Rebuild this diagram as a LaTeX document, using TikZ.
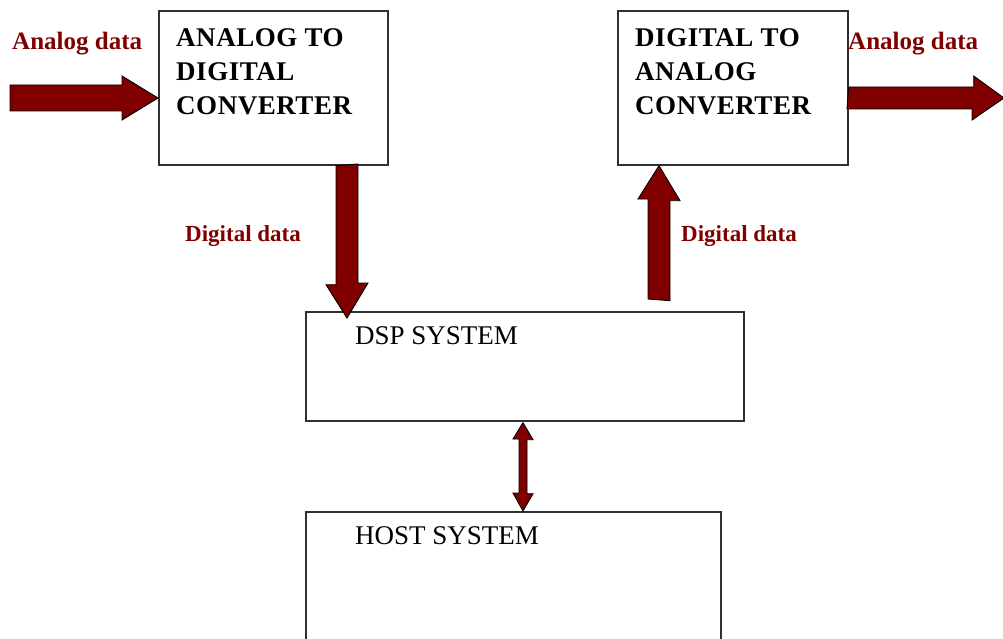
\documentclass[tikz,border=0pt]{standalone}
\usepackage{fontspec}
\setmainfont{Liberation Serif}
\definecolor{maroon}{HTML}{800000}
\definecolor{edge}{HTML}{303030}
\begin{document}
\begin{tikzpicture}[x=1pt,y=-1pt,
  block/.style={draw=edge,line width=1.7pt,fill=white,anchor=north west,inner sep=0pt},
  boxtext/.style={anchor=north west,inner sep=0pt,align=left,
    font=\fontsize{27}{34}\selectfont\bfseries\addfontfeatures{LetterSpace=2}},
  systext/.style={anchor=base west,inner sep=0pt,font=\fontsize{27}{34}\selectfont},
  flowlabel/.style={anchor=base west,inner sep=0pt,text=maroon},
  fat/.style={fill=maroon,draw=black,line width=0.9pt,line join=miter}]
\clip (0,0) rectangle (1003,639);
\fill[white] (0,0) rectangle (1003,639);

% blocks
\node[block,minimum width=229pt,minimum height=154pt] (adc) at (158,10) {};
\node[block,minimum width=230pt,minimum height=154pt] (dac) at (617,10) {};
\node[block,minimum width=438pt,minimum height=109pt] (dsp) at (305,311) {};
\node[block,minimum width=415pt,minimum height=150pt] (host) at (305,511) {};

% block titles
\node[boxtext] (adct) at (176,28) {ANALOG TO\\DIGITAL\\CONVERTER};
\node[boxtext] (dact) at (635,28) {DIGITAL TO\\ANALOG\\CONVERTER};
\node[systext] (dspt) at (355,344) {DSP SYSTEM};
\node[systext] (hostt) at (355,544) {HOST SYSTEM};

% flow labels
\node[flowlabel,font=\fontsize{25}{28}\selectfont\bfseries] (ain) at (12,50) {Analog data};
\node[flowlabel,font=\fontsize{25}{28}\selectfont\bfseries] (aout) at (848,50) {Analog data};
\node[flowlabel,font=\fontsize{23}{28}\selectfont\bfseries] (din) at (185,241) {Digital data};
\node[flowlabel,font=\fontsize{23}{28}\selectfont\bfseries] (dout) at (681,241) {Digital data};

% connector end points on the block edges
\coordinate (inbeg) at (10,98);
\coordinate (adcin) at (adc.west |- inbeg);
\coordinate (adcout) at (347,0 |- adc.south);
\coordinate (dspin) at (347,318);
\coordinate (dspout) at (659,299);
\coordinate (dacin) at (659,0 |- dac.south);
\coordinate (dacout) at (dac.east |- inbeg);
\coordinate (outend) at (1004,98);
\coordinate (dsphost) at (523,0 |- dsp.south);
\coordinate (hostdsp) at (523,0 |- host.north);

% analog input -> ADC
\draw[fat] (inbeg) ++(0,-13) -- ++(112,0) -- ++(0,-9) -- (adcin)
  -- ++(-36,22) -- ++(0,-9) -- ++(-112,0) -- cycle;
% ADC -> DSP
\draw[fat] (adcout) ++(-11,0) -- ++(0,119) -- ++(-10,0) -- (dspin)
  -- ++(21,-35) -- ++(-10,0) -- ++(0,-119) -- cycle;
% DSP -> DAC
\draw[fat] (dspout) ++(-11,0) -- ++(0,-100) -- ++(-10,0) -- (dacin)
  -- ++(21,35) -- ++(-10,0) -- ++(0,100) -- cycle;
% DAC -> analog output
\draw[fat] (dacout) ++(0,-11) -- ++(125,0) -- ++(0,-11) -- (outend)
  -- ++(-32,22) -- ++(0,-11) -- ++(-125,0) -- cycle;
% DSP <-> host
\draw[fat] (dsphost) ++(0,1) -- ++(10,17) -- ++(-6,0) -- ++(0,54) -- ++(6,0)
  -- (hostdsp) -- ++(-10,-18) -- ++(6,0) -- ++(0,-54) -- ++(-6,0) -- cycle;
\end{tikzpicture}
\end{document}
